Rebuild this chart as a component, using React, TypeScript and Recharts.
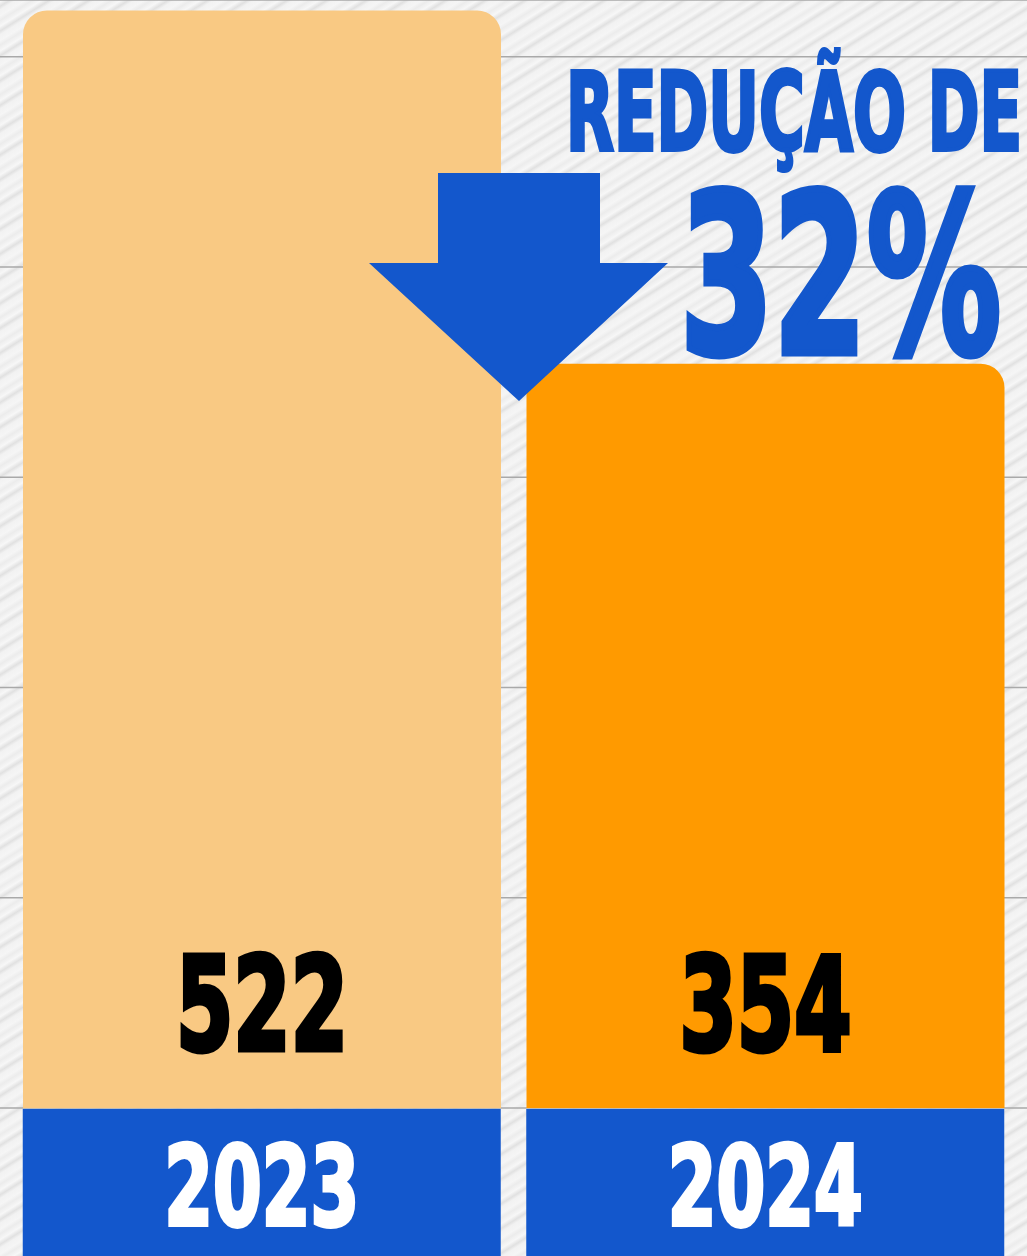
import { BarChart, Bar, XAxis, YAxis, CartesianGrid, Cell, LabelList } from 'recharts';

const years = ['2023', '2024'];
const incidents = [522, 354];
const barColors = ['#F9C983', '#FF9A00'];
const gridTicks = [0, 100, 200, 300, 400, 500];
const headline = 'REDUÇÃO DE';
const changeText = '32%';

const data = years.map((year, i) => ({ year, value: incidents[i] }));

const BLUE = '#1357CC';
const BAR_W = 478;
const FONT = "'Liberation Sans Narrow', 'DejaVu Sans Condensed', 'Liberation Sans', sans-serif";

const bg =
  'repeating-linear-gradient(-32deg, #f5f5f5 0px, #f2f2f2 5px, #e1e1e1 8px, #f7f7f7 12px, #ececec 17px, #f6f6f6 21px)';

function ValueLabel(props: any) {
  const { x, y, width, height, value } = props;
  const cx = x + width / 2;
  const base = y + height - 58;
  return (
    <text
      x={cx}
      y={base}
      textAnchor="middle"
      textLength={172}
      lengthAdjust="spacingAndGlyphs"
      fontFamily={FONT}
      fontWeight={700}
      fontSize={130}
      fill="#000"
      stroke="#000"
      strokeWidth={5}
    >
      {value}
    </text>
  );
}

function YearTick(props: any) {
  const { x, y, payload } = props;
  return (
    <g>
      <rect x={x - BAR_W / 2} y={y + 1} width={BAR_W} height={150} fill={BLUE} />
      <text
        x={x}
        y={y + 117}
        textAnchor="middle"
        textLength={195}
        lengthAdjust="spacingAndGlyphs"
        fontFamily={FONT}
        fontWeight={700}
        fontSize={110}
        fill="#fff"
        stroke="#fff"
        strokeWidth={4}
      >
        {payload.value}
      </text>
    </g>
  );
}

export default function App() {
  return (
    <div
      style={{
        position: 'absolute',
        left: 0,
        top: 0,
        width: 1027,
        height: 1256,
        overflow: 'hidden',
        background: bg,
      }}
    >
      <BarChart
        width={1027}
        height={1256}
        data={data}
        margin={{ top: 0, right: 0, left: 0, bottom: 0 }}
        barSize={BAR_W}
      >
        <CartesianGrid vertical={false} stroke="#a9a9a9" strokeWidth={1.5} />
        <YAxis hide domain={[0, 527]} ticks={gridTicks} />
        <XAxis
          dataKey="year"
          height={148}
          padding={{ left: 10, right: 10 }}
          axisLine={false}
          tickLine={false}
          tickSize={0}
          tickMargin={0}
          tick={(p: any) => <YearTick {...p} />}
        />
        <Bar dataKey="value" radius={[24, 24, 0, 0]} isAnimationActive={false}>
          {data.map((d, i) => (
            <Cell key={d.year} fill={barColors[i]} />
          ))}
          <LabelList dataKey="value" content={(p: any) => <ValueLabel {...p} />} />
        </Bar>
      </BarChart>
      <svg
        width={1027}
        height={1256}
        style={{ position: 'absolute', left: 0, top: 0, pointerEvents: 'none' }}
      >
        <polygon
          points="438,173 600,173 600,263 668,263 519,401 369,263 438,263"
          fill={BLUE}
        />
        <text
          x={566}
          y={150}
          textLength={456}
          lengthAdjust="spacingAndGlyphs"
          fontFamily={FONT}
          fontWeight={700}
          fontSize={108}
          fill={BLUE}
          stroke={BLUE}
          strokeWidth={4}
        >
          {headline}
        </text>
        <text
          x={680}
          y={353}
          textLength={321}
          lengthAdjust="spacingAndGlyphs"
          fontFamily={FONT}
          fontWeight={700}
          fontSize={222}
          fill={BLUE}
          stroke={BLUE}
          strokeWidth={7}
        >
          {changeText}
        </text>
      </svg>
    </div>
  );
}
